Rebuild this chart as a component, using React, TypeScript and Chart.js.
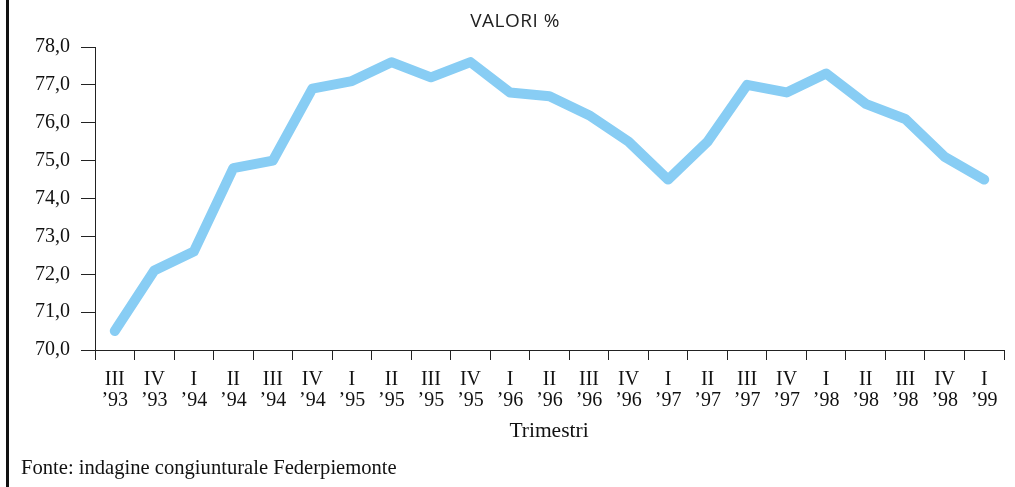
import React, { useEffect, useRef } from "react";
import { Chart, registerables } from "chart.js";

Chart.register(...registerables);

const quarters = ["III", "IV", "I", "II", "III", "IV", "I", "II", "III", "IV", "I", "II", "III", "IV", "I", "II", "III", "IV", "I", "II", "III", "IV", "I"];
const years = ["’93", "’93", "’94", "’94", "’94", "’94", "’95", "’95", "’95", "’95", "’96", "’96", "’96", "’96", "’97", "’97", "’97", "’97", "’98", "’98", "’98", "’98", "’99"];
const values = [70.5, 72.1, 72.6, 74.8, 75.0, 76.9, 77.1, 77.6, 77.2, 77.6, 76.8, 76.7, 76.2, 75.5, 74.5, 75.5, 77.0, 76.8, 77.3, 76.5, 76.1, 75.1, 74.5];
const yMin = 70;
const yMax = 78;
const yStep = 1;

const serif = "'Liberation Serif', 'DejaVu Serif', serif";

export default function App() {
  const ref = useRef<HTMLCanvasElement | null>(null);

  useEffect(() => {
    if (!ref.current) return;
    const labels = quarters.map((q, i) => [q, years[i]]);
    const chart = new Chart(ref.current, {
      type: "line",
      data: {
        labels,
        datasets: [
          {
            data: values,
            borderColor: "#88CDF4",
            borderWidth: 10,
            borderCapStyle: "round",
            borderJoinStyle: "round",
            pointRadius: 0,
            tension: 0,
            fill: false,
          },
        ],
      },
      options: {
        animation: false,
        responsive: false,
        maintainAspectRatio: false,
        layout: { padding: { left: 0, right: 11, top: 47, bottom: 0 } },
        plugins: {
          legend: { display: false },
          tooltip: { enabled: false },
          title: { display: false },
        },
        scales: {
          x: {
            type: "category",
            offset: true,
            afterFit: (s: any) => {
              s.height = 137;
            },
            grid: {
              offset: true,
              drawOnChartArea: false,
              drawTicks: true,
              tickLength: 10,
              color: "#222",
              lineWidth: 1,
            },
            border: { display: true, color: "#222", width: 1 },
            ticks: {
              color: "#111",
              font: { family: serif, size: 20, lineHeight: 1.05 },
              padding: 9,
              maxRotation: 0,
              autoSkip: false,
            },
          },
          y: {
            min: yMin,
            max: yMax,
            afterFit: (s: any) => {
              s.width = 95;
            },
            grid: {
              drawOnChartArea: false,
              drawTicks: true,
              tickLength: 14,
              color: "#222",
              lineWidth: 1,
            },
            border: { display: true, color: "#222", width: 1 },
            ticks: {
              stepSize: yStep,
              color: "#111",
              font: { family: serif, size: 20 },
              padding: 11,
              callback: (v: any) => Number(v).toFixed(1).replace(".", ","),
            },
          },
        },
      },
    });
    return () => chart.destroy();
  }, []);

  return (
    <div style={{ position: "absolute", left: 0, top: 0, width: 1015, height: 487, background: "#fff", overflow: "hidden" }}>
      <canvas ref={ref} width={1015} height={487} style={{ position: "absolute", left: 0, top: 0, width: 1015, height: 487 }} />
      <div style={{ position: "absolute", left: 6, top: 0, width: 3, height: 487, background: "#111" }} />
      <div
        style={{
          position: "absolute",
          left: 515,
          top: 7,
          transform: "translateX(-50%)",
          fontFamily: "'Open Sans', sans-serif",
          fontSize: 19,
          letterSpacing: "0.5px",
          color: "#222",
          whiteSpace: "nowrap",
          lineHeight: "26px",
        }}
      >
        VALORI %
      </div>
      <div
        style={{
          position: "absolute",
          left: 549,
          top: 417,
          transform: "translateX(-50%)",
          fontFamily: serif,
          fontSize: 21.5,
          color: "#111",
          whiteSpace: "nowrap",
          lineHeight: "26px",
        }}
      >
        Trimestri
      </div>
      <div
        style={{
          position: "absolute",
          left: 21,
          top: 454,
          fontFamily: serif,
          fontSize: 20.6,
          color: "#111",
          whiteSpace: "nowrap",
          lineHeight: "26px",
        }}
      >
        Fonte: indagine congiunturale Federpiemonte
      </div>
    </div>
  );
}
